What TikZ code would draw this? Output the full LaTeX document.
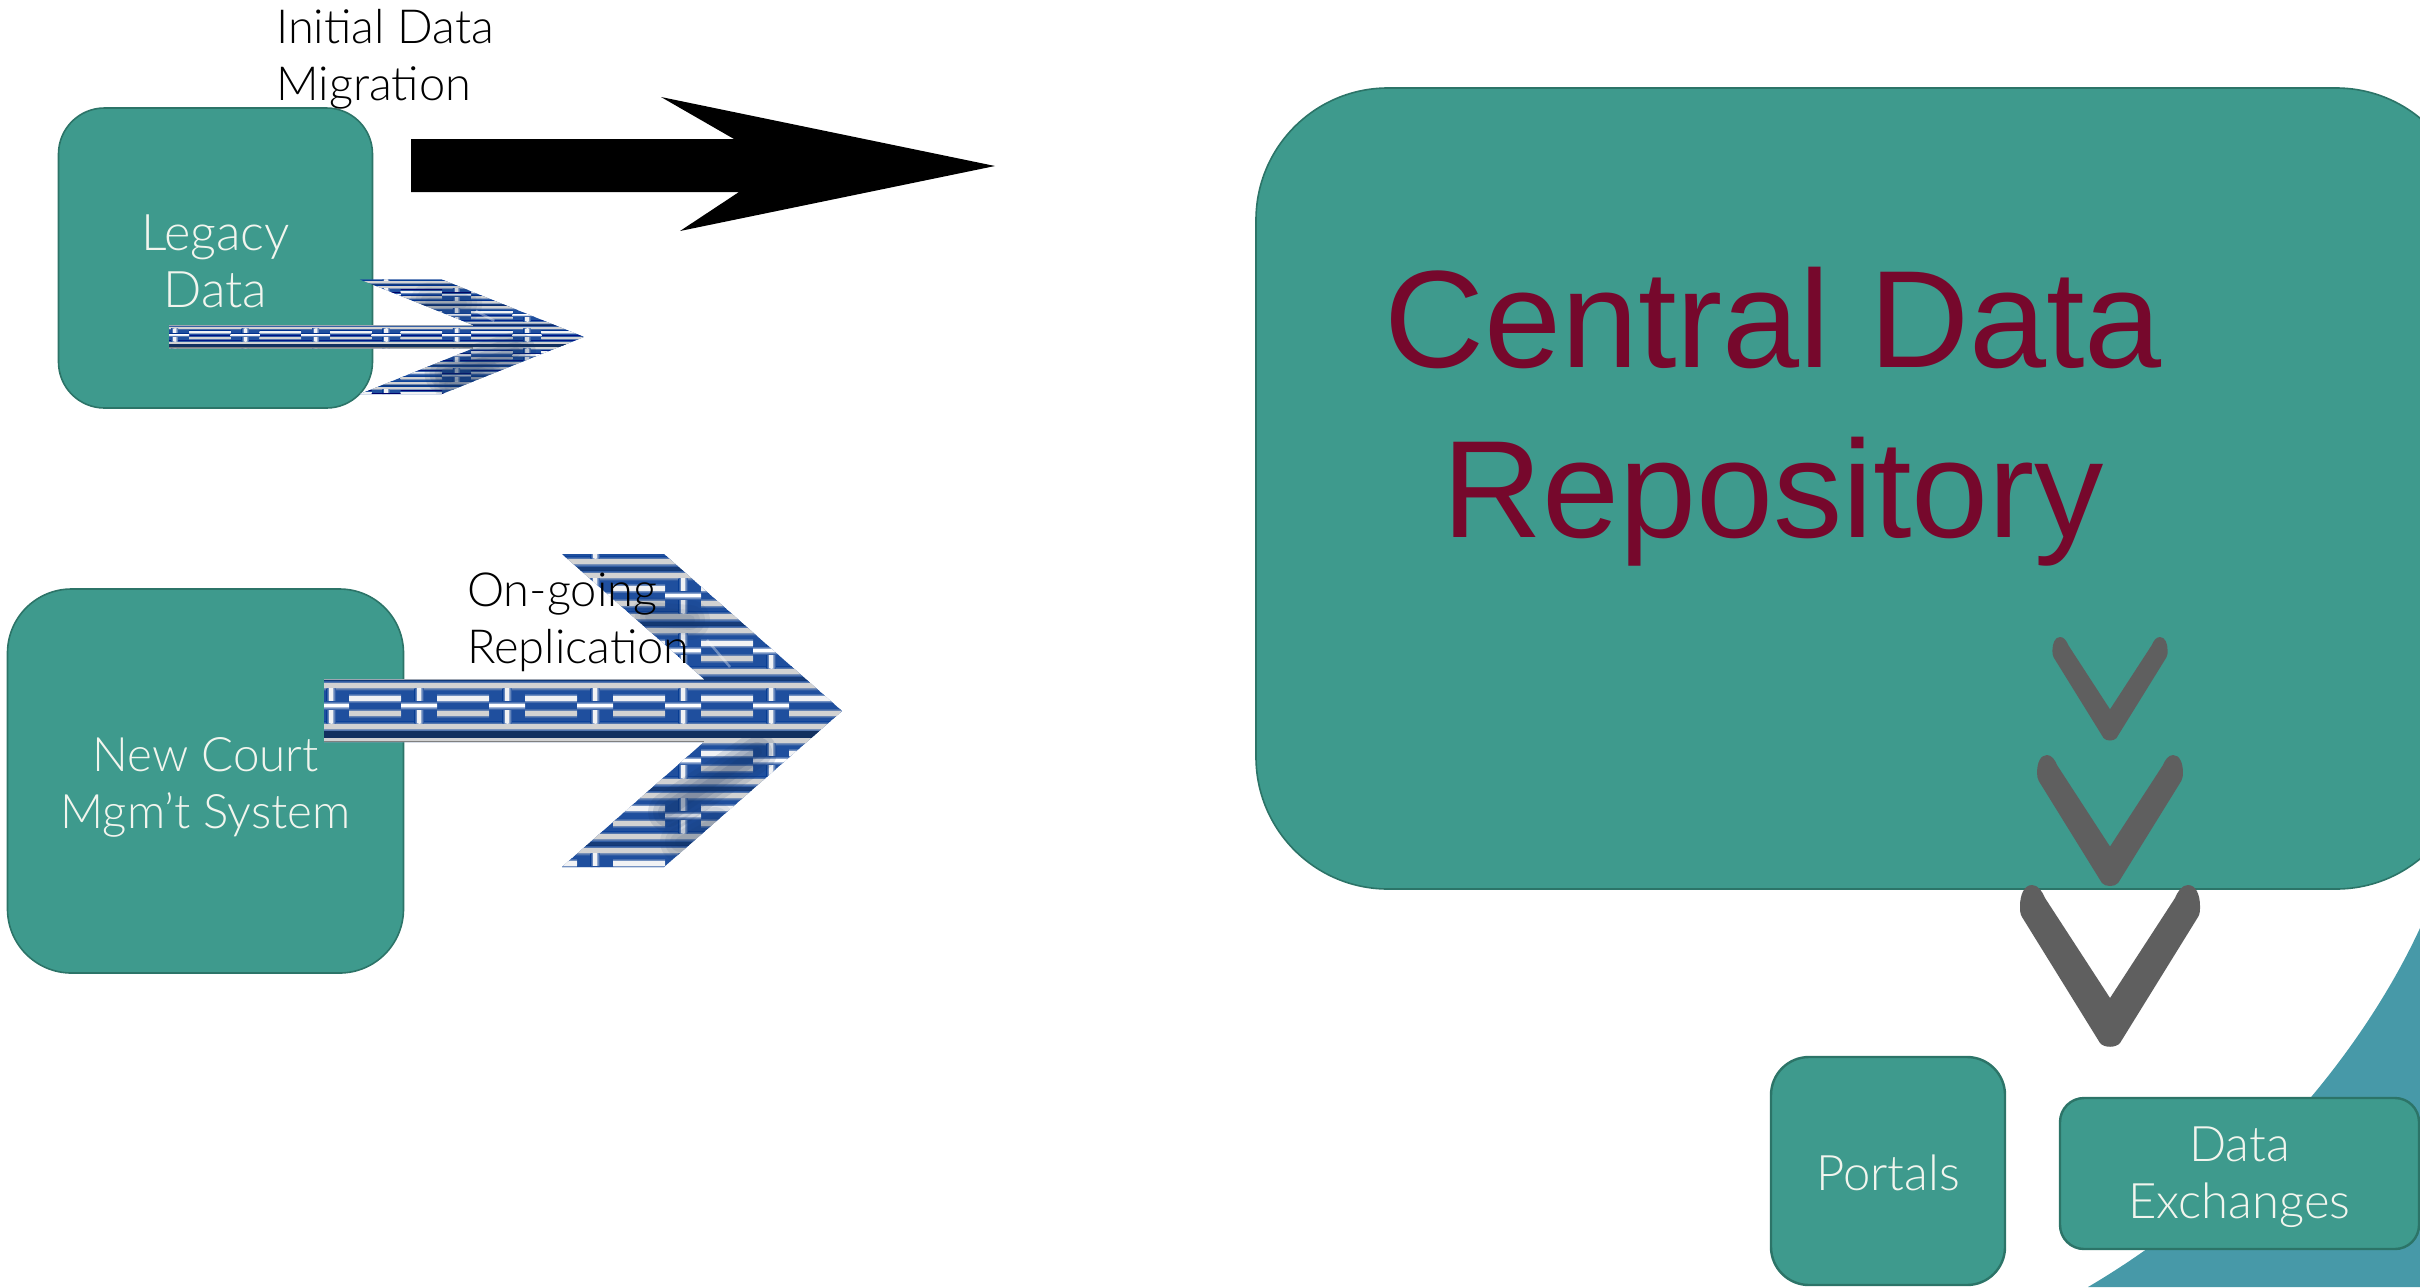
\documentclass[tikz,border=0pt]{standalone}
\usepackage{fontspec}
\setmainfont{Liberation Sans}
\newfontfamily\lightfont{Lato Light}
\definecolor{boxfill}{HTML}{3E9A8D}
\definecolor{boxline}{HTML}{2C7468}
\definecolor{bgcurve}{HTML}{4799A8}
\definecolor{boxtext}{HTML}{F2F5EE}
\definecolor{maroon}{HTML}{76082C}
\definecolor{chev}{HTML}{5F5F5F}
\definecolor{brick}{HTML}{1F4F9E}
\definecolor{navy}{HTML}{12305F}
\definecolor{pale}{HTML}{F1F2F4}
\definecolor{greyish}{HTML}{D2D2D2}
% soft-edged horizontal and vertical bars of the brick texture
\newcommand\softh[5]{%
  \shade[top color=brick,bottom color=brick,middle color=#5] (#1,#2-2.5) rectangle (#3,#4+2.5);
  \fill[#5] (#1,#2) rectangle (#3,#4);}
\newcommand\softv[5]{%
  \shade[left color=brick,right color=brick,middle color=#5] (#1-2.5,#2) rectangle (#3+2.5,#4);
  \fill[#5] (#1,#2) rectangle (#3,#4);}
\newcommand\toprule[1]{\rule{0pt}{#1bp}}
\tikzset{
  x=1bp,y=-1bp,
  tealbox/.style={draw=boxline,line width=1.6bp,fill=boxfill,text=boxtext,rectangle,inner sep=0pt,align=center,
    font=\lightfont\fontsize{49bp}{57bp}\selectfont},
  caption/.style={text=black,inner sep=0pt,align=left,anchor=west,
    font=\lightfont\fontsize{47bp}{57bp}\selectfont},
  chevron/.pic={
    \fill[chev] (-78,0) .. controls (-86,0) and (-90,10) .. (-90,21)
      .. controls (-90,25) and (-90,29) .. (-88,32) -- (-10,158)
      .. controls (-6,163) and (6,163) .. (10,158) -- (88,32)
      .. controls (90,29) and (90,25) .. (90,21)
      .. controls (90,10) and (86,0) .. (78,0)
      .. controls (72,0) and (68,6) .. (65,13) -- (0,113) -- (-65,13)
      .. controls (-68,6) and (-72,0) .. (-78,0) -- cycle;
  },
  bricks/.pic={
    \begin{scope}
      \clip (324,679)--(704,679)--(562,554)--(664,554)--(842,711)--(664,867)--(562,867)--(704,742)--(324,742)--cycle;
      \fill[brick] (320,550) rectangle (850,870);
      \foreach \T in {523,578,633,688,743,798,853}{
        \softh{320}{\T+36}{850}{\T+41}{greyish}
        \softh{320}{\T+50}{850}{\T+55}{greyish}
        \fill[navy,opacity=.6] (320,\T+43.5) rectangle (850,\T+47.5);
        \foreach \S in {331,419,507,595,683,771}{
          \softv{\S-2}{\T}{\S+2}{\T+35}{pale}
          \softh{\S+18}{\T+7.5}{\S+70}{\T+12.5}{pale}
          \softh{\S+18}{\T+22.5}{\S+70}{\T+27.5}{greyish}
          \softh{\S-18}{\T+15.5}{\S+18}{\T+19}{white}
        }
      }
      \fill[navy] (320,731) rectangle (850,738);
      \draw[black!60!brick!40!white,line width=1.5bp] (320,679.5) -- (704,679.5);
      \draw[black!50,line width=1.5bp] (320,741.5) -- (704,741.5);
      \foreach \w in {40,30,20,10}{
        \draw[navy,opacity=.12,line width=\w bp,line cap=round] (668,812) -- (757,752);
        \draw[navy,opacity=.08,line width=\w bp,line cap=round] (680,842) -- (715,822);
        \draw[navy,opacity=.08,line width=\w bp,line cap=round] (650,617) -- (690,620);
      }
      \draw[white,opacity=.35,line width=2.5bp] (707,640) -- (730,667);
    \end{scope}
  }
}
\begin{document}
\begin{tikzpicture}
\useasboundingbox (0,0) rectangle (2420,1287);
% background swoosh
\fill[bgcurve] (2428,910) .. controls (2373,1040) and (2253,1190) .. (2088,1287) -- (2428,1287) -- cycle;
% boxes
\node[tealbox,font=\lightfont\fontsize{50.5bp}{57bp}\selectfont,minimum width=314bp,minimum height=300bp,rounded corners=46bp] (legacy) at (215.5,258) {\toprule{42}Legacy\\Data};
\node[tealbox,font=\lightfont\fontsize{47.5bp}{57bp}\selectfont,minimum width=396bp,minimum height=384bp,rounded corners=64bp] (court) at (205.5,781) {\toprule{46}New Court\\Mgm’t System};
\node[tealbox,minimum width=1212bp,minimum height=801bp,rounded corners=132bp] (central) at (1862,488.5) {};
\node[tealbox,line width=2.4bp,minimum width=234bp,minimum height=228bp,rounded corners=38bp] (portals) at (1888,1171) {\toprule{55}Portals\rule[-17bp]{0pt}{0pt}};
\node[tealbox,line width=2.4bp,minimum width=359bp,minimum height=151bp,rounded corners=24bp] (exchanges) at (2239.5,1173.5) {\toprule{43}Data\\Exchanges};
% central title
\node[text=maroon,inner sep=0pt,align=center,font=\fontsize{138.5bp}{170bp}\selectfont] (title) at (1773,417) {Central Data\\Repository};
% chevrons
\pic[scale=.64] at (2110,637) {chevron};
\pic[scale=.81] at (2110,755) {chevron};
\pic at (2110,885) {chevron};
% black arrow
\fill[black] (411,139) -- (734,139) -- (661,97) -- (995,166) -- (680,231) -- (739,192) -- (411,192) -- cycle;
% patterned arrows
\pic[shift={(-90.5,76)},xscale=.801,yscale=.367] at (0,0) {bricks};
\pic at (0,0) {bricks};
% captions
\node[caption] (initial) at (276,59) {Initial Data\\Migration};
\node[caption] (ongoing) at (467,622) {On-going\\Replication};
\end{tikzpicture}
\end{document}
